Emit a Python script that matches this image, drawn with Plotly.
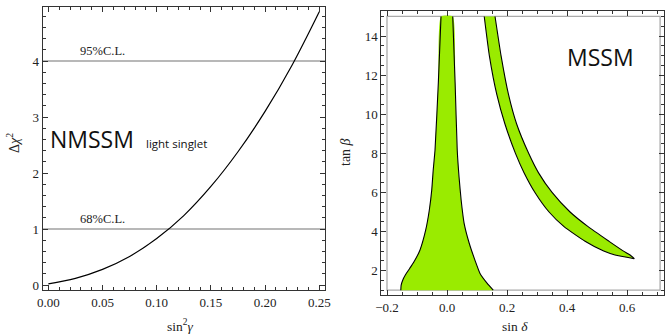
import plotly.graph_objects as go

# ---- left panel data (NMSSM light singlet) ----
sin2_gamma = [0.0, 0.025, 0.05, 0.075, 0.1, 0.125, 0.15, 0.175, 0.2, 0.225, 0.25]
delta_chi2 = [0.02, 0.12, 0.28, 0.51, 0.83, 1.24, 1.76, 2.38, 3.1, 3.93, 4.88]
cl_levels = [1, 4]
cl_labels = ["68%C.L.", "95%C.L."]
left_xticks = [0.0, 0.05, 0.10, 0.15, 0.20, 0.25]
left_xticktext = ["0.00", "0.05", "0.10", "0.15", "0.20", "0.25"]
left_yticks = [0, 1, 2, 3, 4]
left_yticktext = ["0", "1", "2", "3", "4"]

# ---- right panel data (MSSM allowed regions) ----
# left region: left edge bottom->top, right edge top->bottom
blob_left_x = [-0.154, -0.153, -0.148, -0.138, -0.125, -0.112, -0.09, -0.071, -0.059, -0.051, -0.046, -0.04, -0.029, -0.02]
blob_left_y = [1.0, 1.25, 1.5, 1.8, 2.1, 2.4, 3.06, 4.08, 5.1, 6.12, 7.15, 8.17, 11.6, 15.0]
blob_right_x = [0.019, 0.027, 0.034, 0.04, 0.047, 0.057, 0.074, 0.093, 0.11, 0.134, 0.154]
blob_right_y = [15.0, 11.6, 8.17, 6.8, 5.61, 4.42, 3.4, 2.54, 1.86, 1.35, 1.0]
# right band: lower curve top->tip, upper curve tip->top
band_low_x = [0.124, 0.141, 0.166, 0.193, 0.228, 0.257, 0.293, 0.34, 0.39, 0.46, 0.522, 0.56, 0.624]
band_low_y = [15.0, 13.0, 11.0, 9.5, 8.0, 7.0, 6.0, 5.0, 4.25, 3.5, 3.0, 2.8, 2.61]
band_up_x = [0.624, 0.61, 0.588, 0.54, 0.47, 0.41, 0.35, 0.305, 0.272, 0.232, 0.205, 0.18, 0.16]
band_up_y = [2.61, 2.8, 3.0, 3.5, 4.25, 5.0, 6.0, 7.0, 8.0, 9.5, 11.0, 13.0, 15.0]
region_box_x = [-0.2, 0.71]
region_box_y = [1.0, 15.0]
right_xticks = [-0.2, 0.0, 0.2, 0.4, 0.6]
right_xticktext = ["\u22120.2", "0.0", "0.2", "0.4", "0.6"]
right_yticks = [2, 4, 6, 8, 10, 12, 14]
right_yticktext = ["2", "4", "6", "8", "10", "12", "14"]

W, H = 665, 334
GREEN = "#9AEB00"
SERIF = "Liberation Serif"


def px(x):
    return x / W


def py(y):
    return 1 - y / H


fig = go.Figure()

# left panel curve
fig.add_trace(go.Scatter(x=sin2_gamma, y=delta_chi2, mode="lines",
                         line=dict(color="black", width=1.2, shape="spline", smoothing=1.0),
                         xaxis="x", yaxis="y", hoverinfo="skip", showlegend=False))

# right panel fills
fig.add_trace(go.Scatter(x=blob_left_x + blob_right_x, y=blob_left_y + blob_right_y,
                         mode="lines", fill="toself", fillcolor=GREEN,
                         line=dict(width=0, shape="spline", smoothing=0.5),
                         xaxis="x2", yaxis="y2", hoverinfo="skip", showlegend=False))
fig.add_trace(go.Scatter(x=band_low_x + band_up_x, y=band_low_y + band_up_y,
                         mode="lines", fill="toself", fillcolor=GREEN,
                         line=dict(width=0, shape="spline", smoothing=0.5),
                         xaxis="x2", yaxis="y2", hoverinfo="skip", showlegend=False))
for xs, ys in [(blob_left_x, blob_left_y), (blob_right_x, blob_right_y),
               (band_low_x, band_low_y), (band_up_x, band_up_y)]:
    fig.add_trace(go.Scatter(x=xs, y=ys, mode="lines",
                             line=dict(color="black", width=1.1, shape="spline", smoothing=0.5),
                             xaxis="x2", yaxis="y2", hoverinfo="skip", showlegend=False))

shapes = []
for lvl in cl_levels:
    shapes.append(dict(type="line", xref="x domain", yref="y", x0=0, x1=1, y0=lvl, y1=lvl,
                       line=dict(color="#A0A0A0", width=1.3), layer="below"))
shapes.append(dict(type="rect", xref="x2", yref="y2",
                   x0=region_box_x[0], x1=region_box_x[1], y0=region_box_y[0], y1=region_box_y[1],
                   line=dict(color="#AAAAAA", width=1.3), layer="below"))

annotations = []
for lvl, lab in zip(cl_levels, cl_labels):
    annotations.append(dict(x=px(78), y=lvl, xref="paper", yref="y", text=lab, showarrow=False,
                            xanchor="left", yanchor="bottom", yshift=1,
                            font=dict(family=SERIF, size=12.5, color="#222")))
annotations.append(dict(x=px(48), y=py(139), xref="paper", yref="paper", text="NMSSM",
                        showarrow=False, xanchor="left", yanchor="middle",
                        font=dict(family="Open Sans", size=23, color="#111")))
annotations.append(dict(x=px(144), y=py(143), xref="paper", yref="paper", text="light singlet",
                        showarrow=False, xanchor="left", yanchor="middle",
                        font=dict(family="Open Sans", size=11.5, color="#111")))
annotations.append(dict(x=px(600), y=py(57), xref="paper", yref="paper", text="MSSM",
                        showarrow=False, xanchor="center", yanchor="middle",
                        font=dict(family="Open Sans", size=23, color="#111")))
# axis titles
annotations.append(dict(x=px(180), y=py(325), xref="paper", yref="paper",
                        text="sin<sup>2</sup><i>γ</i>", showarrow=False,
                        xanchor="center", yanchor="middle",
                        font=dict(family=SERIF, size=13.5, color="#222")))
annotations.append(dict(x=px(13), y=py(143), xref="paper", yref="paper",
                        text="Δ<i>χ</i><sup>2</sup>", showarrow=False, textangle=-90,
                        xanchor="center", yanchor="middle",
                        font=dict(family=SERIF, size=14, color="#222")))
annotations.append(dict(x=px(515), y=py(326), xref="paper", yref="paper",
                        text="sin <i>δ</i>", showarrow=False,
                        xanchor="center", yanchor="middle",
                        font=dict(family=SERIF, size=13.5, color="#222")))
annotations.append(dict(x=px(345), y=py(152), xref="paper", yref="paper",
                        text="tan <i>β</i>", showarrow=False, textangle=-90,
                        xanchor="center", yanchor="middle",
                        font=dict(family=SERIF, size=14, color="#222")))

axis_common = dict(showline=True, mirror="allticks", linecolor="#333", linewidth=1,
                   ticks="inside", ticklen=5, tickwidth=1, tickcolor="#333",
                   showgrid=False, zeroline=False, tickmode="array", automargin=False,
                   tickfont=dict(family=SERIF, size=13, color="#222"))

fig.update_layout(
    width=W, height=H, margin=dict(l=0, r=0, t=0, b=0, autoexpand=False),
    paper_bgcolor="white", plot_bgcolor="white",
    showlegend=False, hovermode=False,
    xaxis=dict(domain=[px(42.7), px(325)], range=[-0.0052, 0.2553], anchor="y",
               tickvals=left_xticks, ticktext=left_xticktext,
               minor=dict(ticks="inside", dtick=0.01, tick0=0, ticklen=3, tickcolor="#333"),
               **axis_common),
    yaxis=dict(domain=[py(290), py(6.7)], range=[-0.089, 4.97], anchor="x",
               tickvals=left_yticks, ticktext=left_yticktext,
               minor=dict(ticks="inside", dtick=0.2, tick0=0, ticklen=3, tickcolor="#333"),
               **axis_common),
    xaxis2=dict(domain=[px(381.3), px(664)], range=[-0.219, 0.723], anchor="y2",
                tickvals=right_xticks, ticktext=right_xticktext,
                minor=dict(ticks="inside", dtick=0.05, tick0=0, ticklen=3, tickcolor="#333"),
                **axis_common),
    yaxis2=dict(domain=[py(295), py(11)], range=[0.755, 15.28], anchor="x2",
                tickvals=right_yticks, ticktext=right_yticktext,
                minor=dict(ticks="inside", dtick=0.5, tick0=0, ticklen=3, tickcolor="#333"),
                **axis_common),
    shapes=shapes, annotations=annotations,
)

fig.write_html("out.html", config={"displayModeBar": False},
               post_script="document.body.style.margin='0';document.body.style.padding='0';")
